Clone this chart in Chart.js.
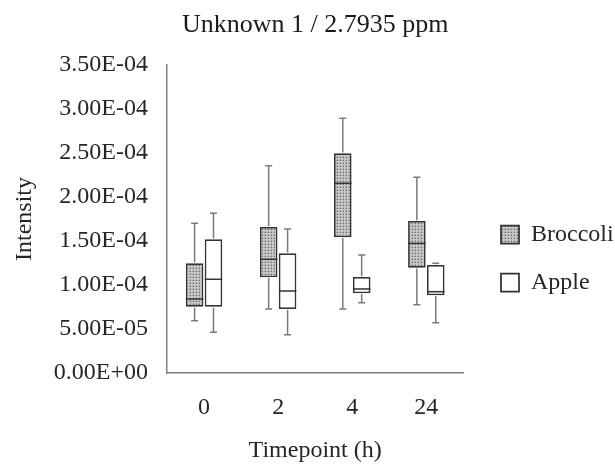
<!DOCTYPE html>
<html><head><meta charset="utf-8">
<script src="https://cdn.jsdelivr.net/npm/chart.js@4"></script>
<style>html,body{margin:0;padding:0;background:#fff;}</style>
</head><body>
<canvas id="c" width="615" height="465"></canvas>
<script>
const categories = ['0', '2', '4', '24'];
const seriesNames = ['Broccoli', 'Apple'];
const yTickLabels = ['0.00E+00','5.00E-05','1.00E-04','1.50E-04','2.00E-04','2.50E-04','3.00E-04','3.50E-04'];

const broccoliMin    = [5.94e-5, 7.27e-5, 7.27e-5, 7.76e-5];
const broccoliQ1     = [7.53e-5, 1.088e-4, 1.542e-4, 1.197e-4];
const broccoliMedian = [8.41e-5, 1.292e-4, 2.156e-4, 1.473e-4];
const broccoliQ3     = [1.247e-4, 1.659e-4, 2.497e-4, 1.727e-4];
const broccoliMax    = [1.701e-4, 2.356e-4, 2.894e-4, 2.224e-4];

const appleMin    = [4.63e-5, 4.35e-5, 7.99e-5, 5.72e-5];
const appleQ1     = [7.53e-5, 7.27e-5, 9.05e-5, 8.83e-5];
const appleMedian = [1.065e-4, 9.32e-5, 9.55e-5, 9.24e-5];
const appleQ3     = [1.519e-4, 1.36e-4, 1.091e-4, 1.227e-4];
const appleMax    = [1.815e-4, 1.636e-4, 1.341e-4, 1.247e-4];

const stats = [
  {min: broccoliMin, median: broccoliMedian, max: broccoliMax, q1: broccoliQ1, q3: broccoliQ3},
  {min: appleMin, median: appleMedian, max: appleMax, q1: appleQ1, q3: appleQ3}
];

// dotted pattern fill
const pc = document.createElement('canvas');
pc.width = 3; pc.height = 3;
const pctx = pc.getContext('2d');
pctx.fillStyle = '#c6c6c6'; pctx.fillRect(0,0,3,3);
pctx.fillStyle = '#6e6e6e'; pctx.fillRect(1,1,1,1);
pctx.fillStyle = '#a4a4a4'; pctx.fillRect(0,1,1,1); pctx.fillRect(1,0,1,1);
const ctx = document.getElementById('c').getContext('2d');
const dotPattern = ctx.createPattern(pc, 'repeat');

const FONT = 'Liberation Serif';
const TXT = '#262626';
const BOX = '#333333';
const WHISK = '#7a7a7a';

const boxPlugin = {
  id: 'boxWhiskers',
  afterLayout(chart) {
    const lg = chart.legend;
    if (!lg) return;
    const dx = 501 - (lg.left + lg.options.labels.padding);
    const dy = 26;
    lg.left += dx; lg.right += dx; lg.top += dy; lg.bottom += dy;
  },
  afterDatasetsDraw(chart) {
    const c = chart.ctx;
    const ys = chart.scales.y;
    chart.data.datasets.forEach((ds, d) => {
      const meta = chart.getDatasetMeta(d);
      const s = stats[d];
      meta.data.forEach((bar, i) => {
        const x = bar.x, w = bar.width;
        const yMin = ys.getPixelForValue(s.min[i]);
        const yMax = ys.getPixelForValue(s.max[i]);
        const yQ1 = ys.getPixelForValue(s.q1[i]);
        const yQ3 = ys.getPixelForValue(s.q3[i]);
        const yMed = ys.getPixelForValue(s.median[i]);
        c.save();
        c.strokeStyle = WHISK; c.lineWidth = 1.5;
        c.beginPath();
        c.moveTo(x, yQ3 - 0.75); c.lineTo(x, yMax);
        c.moveTo(x, yQ1 + 0.75); c.lineTo(x, yMin);
        c.moveTo(x - 3.5, yMax); c.lineTo(x + 3.5, yMax);
        c.moveTo(x - 3.5, yMin); c.lineTo(x + 3.5, yMin);
        c.stroke();
        c.strokeStyle = BOX; c.lineWidth = 1.5;
        c.beginPath();
        c.moveTo(x - w/2, yMed); c.lineTo(x + w/2, yMed);
        c.stroke();
        c.restore();
      });
    });
  }
};

new Chart(ctx, {
  type: 'bar',
  data: {
    labels: categories,
    datasets: [
      {label: seriesNames[0], data: broccoliQ1.map((q, i) => [q, broccoliQ3[i]]),
       backgroundColor: dotPattern, borderColor: BOX, borderWidth: 1.75, borderSkipped: false,
       categoryPercentage: 0.51, barPercentage: 0.93},
      {label: seriesNames[1], data: appleQ1.map((q, i) => [q, appleQ3[i]]),
       backgroundColor: '#ffffff', borderColor: BOX, borderWidth: 1.75, borderSkipped: false,
       categoryPercentage: 0.51, barPercentage: 0.93}
    ]
  },
  options: {
    responsive: false,
    animation: false,
    devicePixelRatio: 1,
    layout: {padding: {left: 0, top: 0, bottom: 0, right: 5}},
    plugins: {
      tooltip: {enabled: false},
      title: {display: true, text: 'Unknown 1 / 2.7935 ppm', fullSize: false,
        font: {family: FONT, size: 26, weight: 'normal'}, color: '#1a1a1a',
        padding: {top: 10, bottom: 23.8}},
      legend: {position: 'right', maxWidth: 152,
        labels: {font: {family: FONT, size: 24}, color: TXT, boxWidth: 18, boxHeight: 18, padding: 24}}
    },
    scales: {
      x: {
        grid: {display: false, drawTicks: false},
        border: {display: true, color: '#808080', width: 1.5},
        ticks: {font: {family: FONT, size: 24}, color: TXT, padding: 20},
        title: {display: true, text: 'Timepoint (h)', font: {family: FONT, size: 24}, color: TXT, padding: {top: 0, bottom: 0}},
        afterFit(s) { s.height = 92; }
      },
      y: {
        min: 0, max: 3.5e-4,
        grid: {display: false, drawTicks: false},
        border: {display: true, color: '#808080', width: 1.5},
        ticks: {stepSize: 5e-5, font: {family: FONT, size: 24}, color: TXT, padding: 19,
          callback: (v, i) => yTickLabels[i]},
        title: {display: true, text: 'Intensity', font: {family: FONT, size: 24}, color: TXT, padding: {top: 10, bottom: 0}},
        afterFit(s) { s.width = 167; }
      }
    }
  },
  plugins: [boxPlugin]
});
</script>
</body></html>
